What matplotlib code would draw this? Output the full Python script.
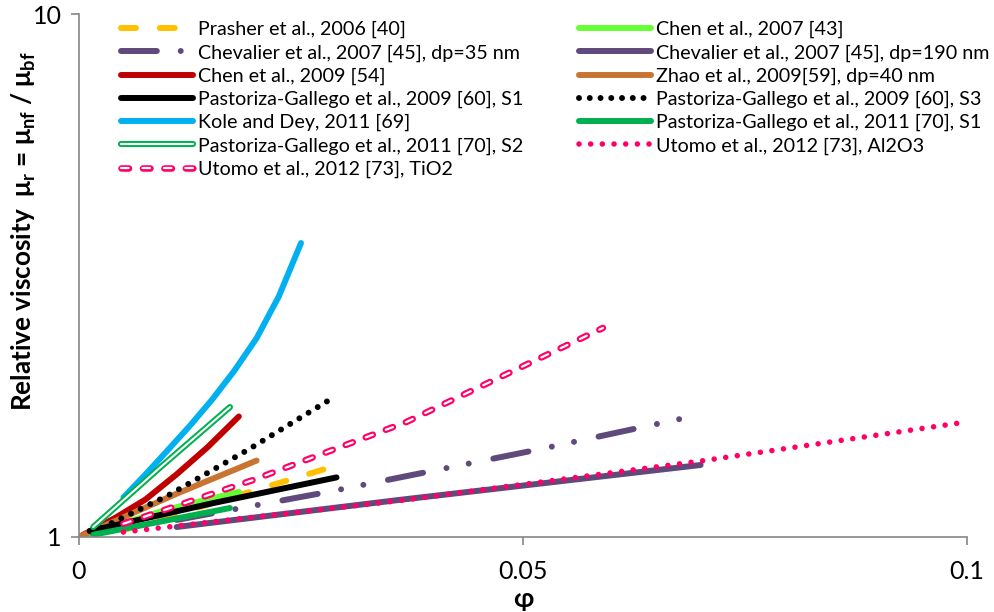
import matplotlib
matplotlib.use("Agg")
import matplotlib.pyplot as plt
import matplotlib.patheffects as pe
from matplotlib.ticker import FixedLocator, FixedFormatter, NullLocator

plt.rcParams['font.family'] = ['Lato', 'DejaVu Sans']
plt.rcParams['mathtext.fontset'] = 'custom'
plt.rcParams['mathtext.rm'] = 'Lato'
plt.rcParams['mathtext.bf'] = 'Lato:bold'

# ---------------- data ----------------
prasher_x = [0.005, 0.015, 0.029]
prasher_y = [1.03, 1.16, 1.37]

chen2007_x = [0.0, 0.010, 0.018]
chen2007_y = [1.00, 1.13, 1.22]

chev35_x = [0.011, 0.028, 0.052, 0.069]
chev35_y = [1.078, 1.219, 1.473, 1.70]

chev190_x = [0.011, 0.036, 0.070]
chev190_y = [1.045, 1.177, 1.373]

chen2009_x = [0.0, 0.004, 0.0075, 0.011, 0.0145, 0.018]
chen2009_y = [1.00, 1.086, 1.18, 1.318, 1.486, 1.70]

zhao_x = [0.0, 0.011, 0.020]
zhao_y = [1.00, 1.21, 1.40]

pg2009s1_x = [0.0012, 0.015, 0.029]
pg2009s1_y = [1.027, 1.16, 1.30]

pg2009s3_x = [0.0015, 0.010, 0.019, 0.028]
pg2009s3_y = [1.02, 1.20, 1.467, 1.82]

kole_x = [0.005, 0.0075, 0.010, 0.0125, 0.015, 0.0175, 0.020, 0.0225, 0.025]
kole_y = [1.19, 1.318, 1.466, 1.633, 1.832, 2.08, 2.40, 2.884, 3.648]

pg2011s1_x = [0.0016, 0.017]
pg2011s1_y = [1.01, 1.136]

pg2011s2_x = [0.0016, 0.0092, 0.017]
pg2011s2_y = [1.045, 1.361, 1.772]

utomo_al_x = [0.005, 0.0367, 0.070, 0.100]
utomo_al_y = [1.022, 1.177, 1.397, 1.66]

utomo_ti_x = [0.005, 0.0196, 0.0369, 0.059]
utomo_ti_y = [1.06, 1.285, 1.66, 2.51]

x_ticks = [0, 0.05, 0.1]
x_ticklabels = ['0', '0.05', '0.1']
y_ticks = [1, 10]
y_ticklabels = ['1', '10']

labels = {
    'prasher': 'Prasher et al., 2006 [40]',
    'chen2007': 'Chen et al., 2007 [43]',
    'chev35': 'Chevalier et al., 2007 [45], dp=35 nm',
    'chev190': 'Chevalier et al., 2007 [45], dp=190 nm',
    'chen2009': 'Chen et al., 2009 [54]',
    'zhao': 'Zhao et al., 2009[59], dp=40 nm',
    'pg2009s1': 'Pastoriza-Gallego et al., 2009 [60], S1',
    'pg2009s3': 'Pastoriza-Gallego et al., 2009 [60], S3',
    'kole': 'Kole and Dey, 2011 [69]',
    'pg2011s1': 'Pastoriza-Gallego et al., 2011 [70], S1',
    'pg2011s2': 'Pastoriza-Gallego et al., 2011 [70], S2',
    'utomo_al': 'Utomo et al., 2012 [73], Al2O3',
    'utomo_ti': 'Utomo et al., 2012 [73], TiO2',
}

# ---------------- figure ----------------
W, H = 994, 612
fig = plt.figure(figsize=(W / 100, H / 100), dpi=100)
ax = fig.add_axes([79 / W, (H - 537) / H, (967 - 79) / W, (537 - 14) / H])

LW = 4.3
PURPLE = '#604A7B'
PINK = '#FF0066'
solid = dict(solid_capstyle='round', solid_joinstyle='round')

h = {}
h['prasher'], = ax.plot(prasher_x, prasher_y, color='#FFC000', lw=LW,
                        linestyle=(0, (2.5, 4.0)), dash_capstyle='round')
h['chen2007'], = ax.plot(chen2007_x, chen2007_y, color='#66FF33', lw=LW, **solid)
h['chev35'], = ax.plot(chev35_x, chev35_y, color=PURPLE, lw=LW,
                       linestyle=(0, (6.0, 4.0, 0.001, 3.8, 0.001, 4.2)),
                       dash_capstyle='round')
h['chev190'], = ax.plot(chev190_x, chev190_y, color=PURPLE, lw=LW, **solid)
h['chen2009'], = ax.plot(chen2009_x, chen2009_y, color='#C00000', lw=LW, **solid)
h['zhao'], = ax.plot(zhao_x, zhao_y, color='#C87533', lw=LW, **solid)
h['pg2009s1'], = ax.plot(pg2009s1_x, pg2009s1_y, color='#000000', lw=LW, **solid)
h['pg2009s3'], = ax.plot(pg2009s3_x, pg2009s3_y, color='#000000', lw=LW,
                         linestyle=(0, (0.001, 1.8)), dash_capstyle='round')
h['kole'], = ax.plot(kole_x, kole_y, color='#00B0F0', lw=LW, **solid)
h['pg2011s1'], = ax.plot(pg2011s1_x, pg2011s1_y, color='#00B050', lw=LW, **solid)
h['pg2011s2'], = ax.plot(pg2011s2_x, pg2011s2_y, color='white', lw=1.5, **solid,
                         path_effects=[pe.Stroke(linewidth=4.4, foreground='#00B050'),
                                       pe.Normal()])
h['utomo_al'], = ax.plot(utomo_al_x, utomo_al_y, color=PINK, lw=4.0,
                         linestyle=(0, (0.001, 2.1)), dash_capstyle='round')
h['utomo_ti'], = ax.plot(utomo_ti_x, utomo_ti_y, color='white', lw=1.6,
                         linestyle=(0, (3.4, 6.25)), dash_capstyle='round',
                         path_effects=[pe.Stroke(linewidth=4.7, foreground=PINK),
                                       pe.Normal()])

ax.set_xscale('linear')
ax.set_yscale('log')
ax.set_xlim(0, 0.1)
ax.set_ylim(1, 10)

ax.xaxis.set_major_locator(FixedLocator(x_ticks))
ax.xaxis.set_major_formatter(FixedFormatter(x_ticklabels))
ax.yaxis.set_major_locator(FixedLocator(y_ticks))
ax.yaxis.set_major_formatter(FixedFormatter(y_ticklabels))
ax.yaxis.set_minor_locator(NullLocator())
ax.xaxis.set_minor_locator(NullLocator())

GRAY = '#868686'
for s in ['top', 'right']:
    ax.spines[s].set_visible(False)
for s in ['left', 'bottom']:
    ax.spines[s].set_color(GRAY)
    ax.spines[s].set_linewidth(1.2)
ax.tick_params(axis='both', which='major', direction='out', color=GRAY,
               width=1.2, length=5.5, labelsize=18, labelcolor='black')
ax.tick_params(axis='x', pad=11)
ax.tick_params(axis='y', pad=7)

ax.set_xlabel('φ', fontsize=19, fontweight='bold', va='center')
ax.xaxis.set_label_coords(0.5, -0.118)
ax.set_ylabel('Relative viscosity  μ$_{\\mathbf{r}}$ = μ$_{\\mathbf{nf}}$ / μ$_{\\mathbf{bf}}$',
              fontsize=18.8, fontweight='bold', va='center', rotation_mode='anchor')
ax.yaxis.set_label_coords(-0.062, 0.585)

col1 = ['prasher', 'chev35', 'chen2009', 'pg2009s1', 'kole', 'pg2011s2', 'utomo_ti']
col2 = ['chen2007', 'chev190', 'zhao', 'pg2009s3', 'pg2011s1', 'utomo_al']

leg_kw = dict(frameon=False, fontsize=14.2, handlelength=3.65, handletextpad=0.25,
              labelspacing=0.30, borderpad=0, borderaxespad=0,
              loc='upper left', bbox_transform=fig.transFigure)
leg1 = ax.legend([h[k] for k in col1], [labels[k] for k in col1],
                 bbox_to_anchor=(121 / W, (H - 21) / H), **leg_kw)
ax.add_artist(leg1)
leg2 = ax.legend([h[k] for k in col2], [labels[k] for k in col2],
                 bbox_to_anchor=(579 / W, (H - 21) / H), **leg_kw)

fig.savefig('out.png', dpi=100)
